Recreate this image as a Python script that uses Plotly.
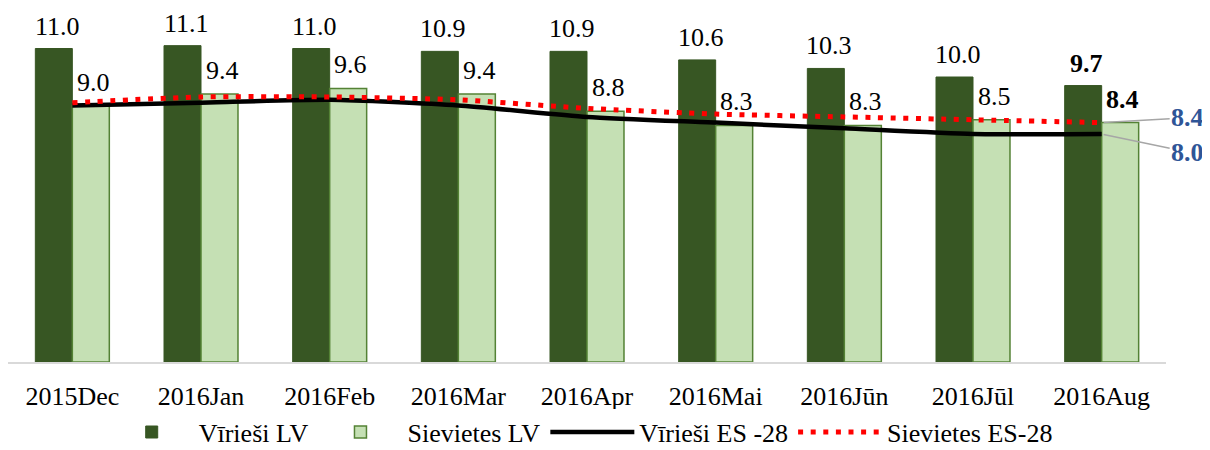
import plotly.graph_objects as go

categories = ["2015Dec", "2016Jan", "2016Feb", "2016Mar", "2016Apr",
              "2016Mai", "2016Jūn", "2016Jūl", "2016Aug"]
men_lv = [11.0, 11.1, 11.0, 10.9, 10.9, 10.6, 10.3, 10.0, 9.7]
women_lv = [9.0, 9.4, 9.6, 9.4, 8.8, 8.3, 8.3, 8.5, 8.4]
men_eu = [9.0, 9.1, 9.2, 9.0, 8.6, 8.4, 8.2, 8.0, 8.0]
women_eu = [9.1, 9.3, 9.3, 9.2, 8.9, 8.7, 8.6, 8.5, 8.4]

DARK = "#375623"
LIGHT = "#C5E0B4"
EDGE = "#548235"
BLUE = "#2F5597"
FONT = "Times New Roman, Liberation Serif, serif"
FS = 26

fig = go.Figure()
fig.add_trace(go.Bar(name="Vīrieši LV", x=categories, y=men_lv,
                     marker=dict(color=DARK, line=dict(color=DARK, width=1))))
fig.add_trace(go.Bar(name="Sievietes LV", x=categories, y=women_lv,
                     marker=dict(color=LIGHT, line=dict(color=EDGE, width=1.5))))
fig.add_trace(go.Scatter(name="Vīrieši ES -28", x=categories, y=men_eu, mode="lines",
                         line=dict(color="black", width=4.5, shape="spline", smoothing=0.6)))
fig.add_trace(go.Scatter(name="Sievietes ES-28", x=categories, y=women_eu, mode="lines",
                         line=dict(color="#FF0000", width=5, dash="5px,7.6px",
                                   shape="spline", smoothing=0.6)))

annotations = []
n = len(categories)
for i, (c, m, w) in enumerate(zip(categories, men_lv, women_lv)):
    last = i == n - 1
    txt_m = f"<b>{m:.1f}</b>" if last else f"{m:.1f}"
    txt_w = f"<b>{w:.1f}</b>" if last else f"{w:.1f}"
    annotations.append(dict(x=c, y=m, xref="x", yref="y", text=txt_m, showarrow=False,
                            xshift=-15, yshift=6, yanchor="bottom",
                            font=dict(family=FONT, size=FS, color="black")))
    annotations.append(dict(x=c, y=w, xref="x", yref="y", text=txt_w, showarrow=False,
                            xshift=21, yshift=7, yanchor="bottom",
                            font=dict(family=FONT, size=FS, color="black")))

# end labels for EU lines
annotations.append(dict(x=categories[-1], y=women_eu[-1], xref="x", yref="y",
                        text=f"<b>{women_eu[-1]:.1f}</b>", showarrow=True, arrowhead=0,
                        arrowwidth=1.5, arrowcolor="#A6A6A6", ax=86, ay=-5, standoff=2,
                        font=dict(family=FONT, size=FS, color=BLUE)))
annotations.append(dict(x=categories[-1], y=men_eu[-1], xref="x", yref="y",
                        text=f"<b>{men_eu[-1]:.1f}</b>", showarrow=True, arrowhead=0,
                        arrowwidth=1.5, arrowcolor="#A6A6A6", ax=86, ay=18, standoff=2,
                        font=dict(family=FONT, size=FS, color=BLUE)))

# the page body adds an 8px offset, so the figure is sized to fit the 1210x450 window
fig.update_layout(
    width=1202, height=442,
    margin=dict(l=0, r=44, t=12, b=88, autoexpand=False),
    paper_bgcolor="white", plot_bgcolor="white",
    barmode="group", bargap=0.425, bargroupgap=0,
    font=dict(family=FONT, size=FS, color="black"),
    showlegend=True,
    legend=dict(orientation="h", x=0.495, xanchor="center", y=-0.205, yanchor="middle",
                font=dict(family=FONT, size=FS), traceorder="normal",
                itemwidth=84),
    annotations=annotations,
)
fig.update_xaxes(range=[-0.5, len(categories) - 0.5], autorange=False,
                 showline=True, linecolor="#D9D9D9", linewidth=2, showgrid=False,
                 ticks="", ticklabelstandoff=10,
                 tickfont=dict(family=FONT, size=FS, color="black"))
fig.update_yaxes(range=[0, 12], autorange=False, visible=False, showgrid=False, zeroline=False)

fig.write_html("out.html")
